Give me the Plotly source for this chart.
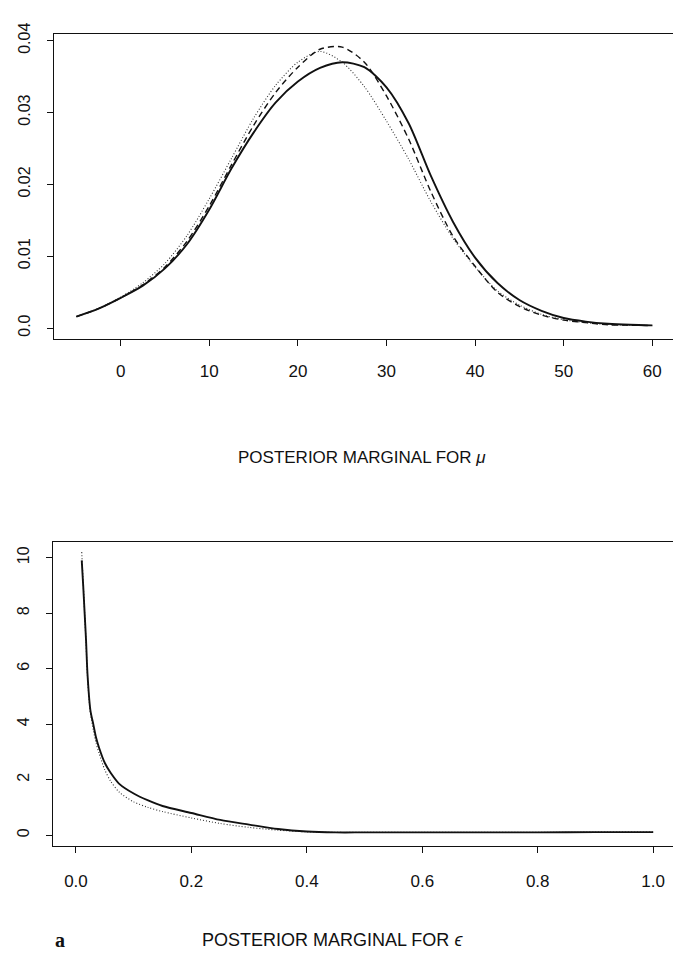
import plotly.graph_objects as go

# ---- posterior marginal for mu (three approximations) ----
mu_x = [-5, -2.5, 0, 2.5, 5, 7.5, 10, 12.5, 15, 17.5, 20, 22.5, 25, 27.5,
        30, 32.5, 35, 37.5, 40, 42.5, 45, 47.5, 50, 52.5, 55, 57.5, 60]
mu_solid = [0.0016, 0.0027, 0.0042, 0.0059, 0.0083, 0.0117, 0.0165, 0.0222,
            0.0272, 0.0314, 0.0343, 0.0362, 0.0370, 0.0363, 0.0335, 0.0285,
            0.0212, 0.0148, 0.0098, 0.0063, 0.0039, 0.0024, 0.0014, 0.0009,
            0.0006, 0.00045, 0.00037]
mu_dashed = [0.0016, 0.0027, 0.0042, 0.0060, 0.0085, 0.0121, 0.0170, 0.0227,
             0.0282, 0.0328, 0.0363, 0.0388, 0.0391, 0.0370, 0.0323, 0.0263,
             0.0190, 0.0128, 0.0086, 0.0050, 0.0030, 0.0018, 0.0011, 0.00075,
             0.00045, 0.0004, 0.00035]
mu_dotted = [0.0016, 0.0027, 0.0043, 0.0063, 0.0090, 0.0129, 0.0180, 0.0236,
             0.0292, 0.0338, 0.0370, 0.0385, 0.0370, 0.0336, 0.0288, 0.0235,
             0.0176, 0.0125, 0.0085, 0.0052, 0.0032, 0.0019, 0.00115, 0.00075,
             0.0005, 0.0004, 0.00035]
mu_xticks = [0, 10, 20, 30, 40, 50, 60]
mu_yticks = [0.0, 0.01, 0.02, 0.03, 0.04]
mu_ylabels = ["0.0", "0.01", "0.02", "0.03", "0.04"]

# ---- posterior marginal for epsilon ----
eps_x = [0.010, 0.0125, 0.015, 0.0175, 0.02, 0.025, 0.03, 0.035, 0.04, 0.05,
         0.06, 0.075, 0.1, 0.125, 0.15, 0.2, 0.25, 0.3, 0.35, 0.4, 0.45, 0.5,
         0.6, 0.7, 0.8, 0.9, 1.0]
eps_solid = [9.9, 9.0, 8.0, 7.0, 5.8, 4.5, 4.0, 3.5, 3.15, 2.6, 2.25, 1.85,
             1.5, 1.25, 1.05, 0.80, 0.55, 0.38, 0.22, 0.13, 0.10, 0.10, 0.10,
             0.10, 0.10, 0.11, 0.11]
eps_dotted = [10.2, 9.1, 8.0, 6.9, 5.7, 4.4, 3.8, 3.3, 2.95, 2.35, 1.95, 1.55,
              1.2, 1.0, 0.85, 0.62, 0.42, 0.28, 0.18, 0.12, 0.10, 0.10, 0.10,
              0.10, 0.10, 0.11, 0.11]
eps_xticks = [0.0, 0.2, 0.4, 0.6, 0.8, 1.0]
eps_xlabels = ["0.0", "0.2", "0.4", "0.6", "0.8", "1.0"]
eps_yticks = [0, 2, 4, 6, 8, 10]

W, H = 673, 955
FONT = "Liberation Sans, Arial, Helvetica, sans-serif"
INK = "#111111"


def px_x(p):
    return p / W


def px_y(p):
    return 1 - p / H


fig = go.Figure()

spl = dict(shape="spline", smoothing=0.8)
fig.add_trace(go.Scatter(x=mu_x, y=mu_dotted, mode="lines", xaxis="x", yaxis="y",
                         line=dict(color="#333333", width=1.1, dash="1px,2px", **spl)))
fig.add_trace(go.Scatter(x=mu_x, y=mu_dashed, mode="lines", xaxis="x", yaxis="y",
                         line=dict(color=INK, width=1.4, dash="6px,4px", **spl)))
fig.add_trace(go.Scatter(x=mu_x, y=mu_solid, mode="lines", xaxis="x", yaxis="y",
                         line=dict(color=INK, width=1.9, **spl)))

fig.add_trace(go.Scatter(x=eps_x, y=eps_dotted, mode="lines", xaxis="x2", yaxis="y2",
                         line=dict(color="#333333", width=1.1, dash="1px,2px", **spl)))
fig.add_trace(go.Scatter(x=eps_x, y=eps_solid, mode="lines", xaxis="x2", yaxis="y2",
                         line=dict(color=INK, width=1.9, **spl)))

axis_common = dict(showline=True, linecolor=INK, linewidth=1.2, ticks="outside",
                   ticklen=6, tickwidth=1.1, tickcolor=INK, showgrid=False,
                   zeroline=False)
xfont = dict(family=FONT, size=17, color=INK)
yfont = dict(family=FONT, size=16, color=INK)

fig.update_layout(
    width=W, height=H, margin=dict(l=0, r=0, t=0, b=0),
    paper_bgcolor="white", plot_bgcolor="white", showlegend=False,
    xaxis=dict(domain=[px_x(54), 1], range=[-7.53, 62.34], tickmode="array",
               tickvals=mu_xticks, mirror=True, ticklabelstandoff=10,
               anchor="y", tickfont=xfont, **axis_common),
    yaxis=dict(domain=[px_y(332), px_y(23)], range=[-0.00155, 0.04096],
               tickmode="array", tickvals=mu_yticks, ticktext=mu_ylabels,
               tickangle=-90, ticklabelstandoff=11, anchor="x",
               tickfont=yfont, **axis_common),
    xaxis2=dict(domain=[px_x(53), 1], range=[-0.0398, 1.0344], tickmode="array",
                tickvals=eps_xticks, ticktext=eps_xlabels, mirror=True,
                ticklabelstandoff=13, anchor="y2", tickfont=xfont, **axis_common),
    yaxis2=dict(domain=[px_y(845), px_y(537)], range=[-0.40, 10.57],
                tickmode="array", tickvals=eps_yticks, tickangle=-90,
                ticklabelstandoff=11, anchor="x2", tickfont=yfont, **axis_common),
)

fig.add_annotation(text="POSTERIOR MARGINAL FOR <i>μ</i>", xref="paper", yref="paper",
                   x=px_x(362), y=px_y(452), showarrow=False, xanchor="center",
                   yanchor="middle", font=dict(family=FONT, size=17, color=INK))
fig.add_annotation(text="POSTERIOR MARGINAL FOR <i>ϵ</i>", xref="paper", yref="paper",
                   x=px_x(332), y=px_y(940), showarrow=False, xanchor="center",
                   yanchor="middle", font=dict(family=FONT, size=18, color=INK))
fig.add_annotation(text="<b>a</b>", xref="paper", yref="paper",
                   x=px_x(60), y=px_y(940), showarrow=False, xanchor="center",
                   yanchor="middle",
                   font=dict(family="Liberation Serif, Times New Roman, serif",
                             size=20, color=INK))

fig.write_html("out.html")
